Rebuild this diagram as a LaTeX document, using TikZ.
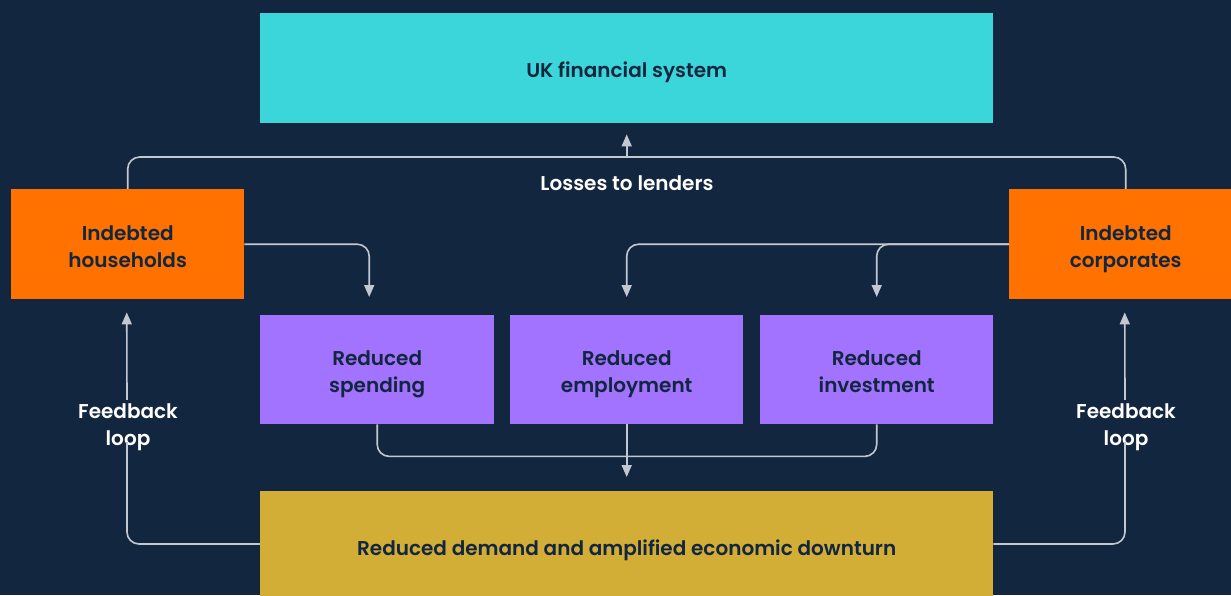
\documentclass[tikz,border=0pt]{standalone}
\usepackage{fontspec}
\setmainfont{Poppins}[BoldFont={Poppins SemiBold}]
\usetikzlibrary{arrows.meta,positioning}
\definecolor{navy}{HTML}{13263F}
\definecolor{fincyan}{HTML}{3BD6D9}
\definecolor{indorange}{HTML}{FF7200}
\definecolor{redpurple}{HTML}{A173FF}
\definecolor{downgold}{HTML}{D2AE37}
\definecolor{linkgray}{HTML}{C3C8D0}

\begin{document}
\begin{tikzpicture}[x=1pt,y=-1pt,
    box/.style={minimum height=110pt, inner sep=0pt, align=center, text=navy,
      font=\fontsize{20}{27}\selectfont\bfseries,
      text height=24pt, text depth=5pt},
    twoline/.style={text height=51pt, text depth=5pt},
    link/.style={draw=linkgray, line width=1.6pt, rounded corners=12pt},
    tip/.style={-{Triangle[length=12pt,width=10pt]}},
    lbl/.style={text=white, align=center, inner sep=0pt,
      font=\fontsize{20}{27}\selectfont\bfseries,
      text height=24pt, text depth=5pt}]
    \fill[navy] (0,0) rectangle (1231,595);
    \useasboundingbox (0,0) rectangle (1231,595);

    % boxes
    \node[box, fill=fincyan, minimum width=733pt, anchor=north west] (ukfs) at (260,13) {UK financial system};
    \node[box, twoline, fill=indorange, minimum width=233pt, anchor=north west] (hh) at (11,189) {Indebted\\households};
    \node[box, twoline, fill=indorange, minimum width=233pt, anchor=north west] (co) at (1009,189) {Indebted\\corporates};
    \node[box, twoline, fill=redpurple, minimum width=234pt, minimum height=109pt, anchor=north west] (spend) at (260,315) {Reduced\\spending};
    \node[box, twoline, fill=redpurple, minimum width=233pt, minimum height=109pt, anchor=north west] (emp) at (510,315) {Reduced\\employment};
    \node[box, twoline, fill=redpurple, minimum width=233pt, minimum height=109pt, anchor=north west] (inv) at (760,315) {Reduced\\investment};
    \node[box, fill=downgold, minimum width=733pt, anchor=north west] (down) at (260,491) {Reduced demand and amplified economic downturn};

    % labels
    \node[lbl] (loss) at (627,181) {Losses to lenders};
    \node[lbl, twoline] (fbl) at (128,422) {Feedback\\loop};
    \node[lbl, twoline] (fbr) at (1126,422) {Feedback\\loop};

    % losses to lenders
    \draw[link] (hh.north) -- ++(0,-32) -| (co.north);
    \draw[link, tip, shorten >=11pt] (ukfs.south |- 0,157) -- (ukfs.south);

    % debt to cuts
    \draw[link, tip, shorten >=18pt] (hh.east) -| ([xshift=-8pt]spend.north);
    \draw[link, tip, shorten >=18pt] (co.west) -| (emp.north);
    \draw[link, tip, shorten >=18pt] (co.west) -| (inv.north);

    % cuts to downturn
    \draw[link] (spend.south) -- ++(0,32) -| (inv.south);
    \draw[link, tip, shorten >=14pt] (emp.south) -- (down.north);

    % feedback loops
    \draw[link] (down.west |- 0,544) -| ([xshift=-1pt,yshift=8pt]fbl.south);
    \draw[link, tip, shorten >=13pt] ([xshift=-1pt,yshift=-6pt]fbl.north) -- ([xshift=-1pt]hh.south);
    \draw[link] (down.east |- 0,544) -| ([xshift=-1pt,yshift=8pt]fbr.south);
    \draw[link, tip, shorten >=13pt] ([xshift=-1pt,yshift=-6pt]fbr.north) -- ([xshift=-1pt]co.south);
\end{tikzpicture}
\end{document}
